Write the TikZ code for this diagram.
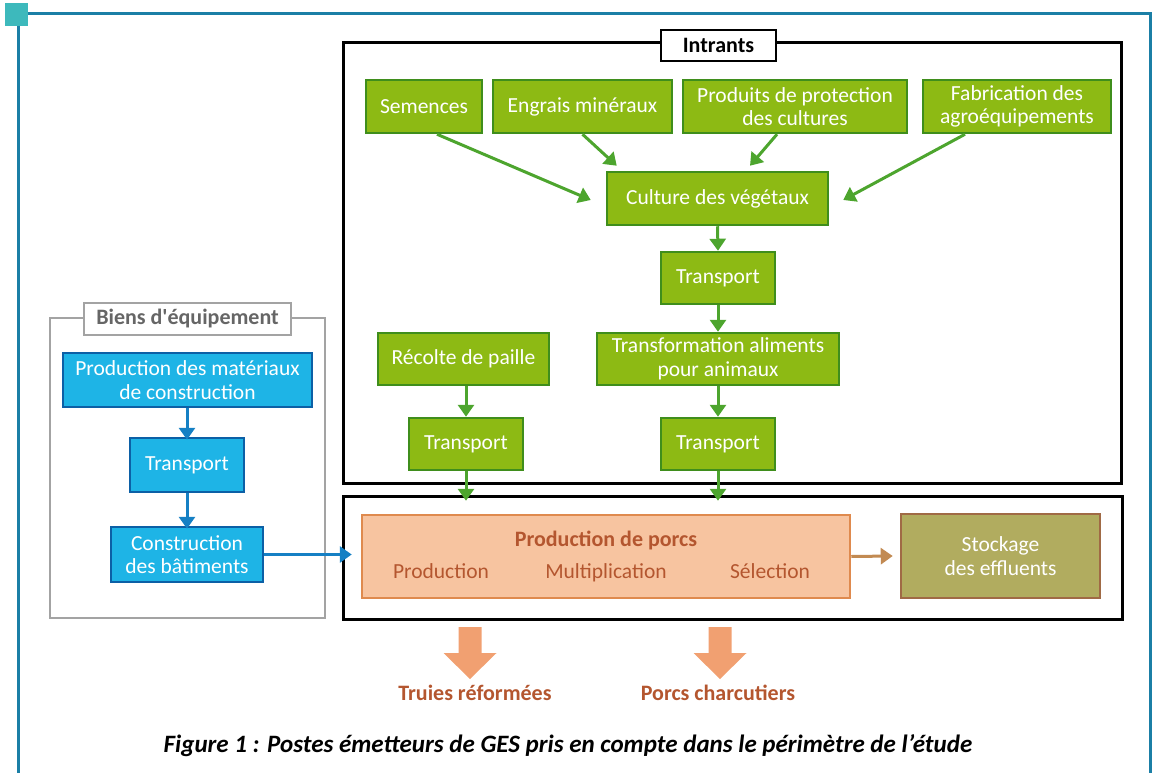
\documentclass[tikz,border=0pt]{standalone}
\usepackage{fontspec}
\setmainfont{Carlito}
\newfontfamily\carl{Carlito}
\usetikzlibrary{arrows.meta,calc}
\definecolor{gfill}{HTML}{8DBA14}
\definecolor{gline}{HTML}{3F8E1C}
\definecolor{garr}{HTML}{4DA52E}
\definecolor{bfill}{HTML}{1EB4E6}
\definecolor{bline}{HTML}{0C60A6}
\definecolor{barr}{HTML}{1580C4}
\definecolor{pfill}{HTML}{F7C4A0}
\definecolor{pline}{HTML}{DF8A4E}
\definecolor{ptext}{HTML}{B4562F}
\definecolor{sfill}{HTML}{B1AC5F}
\definecolor{sline}{HTML}{A06A45}
\definecolor{brarr}{HTML}{C28A52}
\definecolor{bigarr}{HTML}{F1A071}
\definecolor{frame}{HTML}{1B7FA6}
\definecolor{teal}{HTML}{3DB9BC}
\definecolor{grayline}{HTML}{A3A3A3}
\definecolor{graytext}{HTML}{666666}
\tikzset{
  boxfont/.style={font=\fontsize{21.5}{23.5}\selectfont},
  gbox/.style={draw=gline, line width=2.5pt, fill=gfill, text=white, align=center, inner sep=0pt, boxfont},
  bbox/.style={draw=bline, line width=2.5pt, fill=bfill, text=white, align=center, inner sep=0pt, boxfont},
  garrow/.style={draw=garr, line width=3pt, -{Triangle[width=16pt,length=12pt]}},
  barrow/.style={draw=barr, line width=3pt, -{Triangle[width=16pt,length=12pt]}},
  brarrow/.style={draw=brarr, line width=3pt, -{Triangle[width=16pt,length=12pt]}},
  blackframe/.style={draw=black, line width=3pt},
  ptxt/.style={text=ptext, boxfont, anchor=base, inner sep=0pt},
}
\begin{document}
\begin{tikzpicture}[x=1pt,y=-1pt]
\useasboundingbox (0,0) rectangle (1157,773);
% outer frame
\draw[frame, line width=3pt] (28,13.5) -- (1150,13.5) -- (1150,773);
\draw[frame, line width=3pt] (18,26) -- (18,773);
\fill[teal] (5,3) rectangle (28,26);
% Intrants frame
\draw[blackframe] (343,43) rectangle (1121,483);
\node[draw=black, line width=2.5pt, fill=white, minimum width=115pt, minimum height=31pt, inner sep=0pt, font=\fontsize{22}{24}\selectfont\bfseries] (intr) at (718.5,45.5) {Intrants};
% green boxes
\node[gbox, minimum width=116pt, minimum height=53pt] (sem) at (424,106.5) {Semences};
\node[gbox, minimum width=179pt, minimum height=53pt] (eng) at (582.5,106.5) {Engrais minéraux};
\node[gbox, minimum width=224pt, minimum height=53pt] (prot) at (795,106.5) {Produits de protection\\des cultures};
\node[gbox, minimum width=188pt, minimum height=53pt] (fab) at (1017,106.5) {Fabrication des\\agroéquipements};
\node[gbox, minimum width=221pt, minimum height=53pt] (cult) at (717.5,198.5) {Culture des végétaux};
\node[gbox, minimum width=114pt, minimum height=52pt] (tr1) at (718,278) {Transport};
\node[gbox, minimum width=242pt, minimum height=52pt] (tal) at (718,359) {Transformation aliments\\pour animaux};
\node[gbox, minimum width=171pt, minimum height=52pt] (rec) at (463.5,359) {Récolte de paille};
\node[gbox, minimum width=114pt, minimum height=52pt] (trL) at (466,444) {Transport};
\node[gbox, minimum width=114pt, minimum height=52pt] (trR) at (718,444) {Transport};
% green arrows
\draw[garrow] ([xshift=13pt]sem.south) -- ([shift={(-15,1.5)}]cult.west);
\draw[garrow] (eng.south) -- ([shift={(11,-5)}]cult.north west);
\draw[garrow] ([xshift=-18pt]prot.south) -- ([shift={(32.5,-5)}]cult.north);
\draw[garrow] ([xshift=-52pt]fab.south) -- ([shift={(14,1.5)}]cult.east);
\draw[garrow] (cult.south) -- (tr1.north);
\draw[garrow] (tr1.south) -- (tal.north);
\draw[garrow] (rec.south -| trL.north) -- (trL.north);
\draw[garrow] (tal.south) -- (trR.north);
% production frame
\draw[blackframe] (343,496) rectangle (1122,619);
\node[draw=pline, line width=2.5pt, fill=pfill, minimum width=488pt, minimum height=83pt, inner sep=0pt] (porcs) at (606,556.5) {};
\node[ptxt, font=\fontsize{22}{24}\selectfont\bfseries] (pdp) at (606,546) {Production de porcs};
\node[ptxt] (p1) at (441,578) {Production};
\node[ptxt] (p2) at (606,578) {Multiplication};
\node[ptxt] (p3) at (770,578) {Sélection};
\node[draw=sline, line width=2.5pt, fill=sfill, text=white, align=center, minimum width=199pt, minimum height=84pt, inner sep=0pt, font=\fontsize{21.5}{24}\selectfont] (stock) at (1000.5,556) {Stockage\\des effluents};
\coordinate (inL) at ($(trL.south |- porcs.north)+(0,-13)$);
\coordinate (inR) at ($(trR.south |- porcs.north)+(0,-13)$);
\draw[garrow] (trL.south) -- (inL);
\draw[garrow] (trR.south) -- (inR);
\draw[brarrow] (porcs.east) -- ([xshift=-7pt]stock.west);
% Biens d'equipement
\draw[grayline, line width=2.5pt] (50,318) rectangle (325,618);
\node[draw=grayline, line width=2.5pt, fill=white, minimum width=207pt, minimum height=32pt, inner sep=0pt, text=graytext, font=\carl\fontsize{22}{24}\selectfont\bfseries] (biens) at (187.5,319) {Biens d'équipement};
\node[bbox, minimum width=249pt, minimum height=54pt] (mat) at (187.5,380) {Production des matériaux\\de construction};
\node[bbox, minimum width=114pt, minimum height=54pt] (trB) at (187,465) {Transport};
\node[bbox, minimum width=152pt, minimum height=55pt] (cons) at (187,554.5) {Construction\\des bâtiments};
\draw[barrow] (mat.south -| trB.north) -- ([yshift=-3pt]trB.north);
\draw[barrow] (trB.south) -- ([yshift=-3pt]cons.north);
\coordinate (inB) at ($(porcs.west |- cons.east)+(-9,0)$);
\draw[barrow] (cons.east) -- (inB);
% outputs
\coordinate (oL) at (470,627);
\coordinate (oR) at (720,627);
\foreach \c in {oL,oR}{
  \fill[bigarr] ($(\c)+(-11.5,0)$) -- ($(\c)+(11.5,0)$) -- ($(\c)+(11.5,26)$) -- ($(\c)+(26.5,26)$) -- ($(\c)+(0,52)$) -- ($(\c)+(-26.5,26)$) -- ($(\c)+(-11.5,26)$) -- cycle;
}
\node[text=ptext, font=\fontsize{22}{24}\selectfont\bfseries] (truies) at (475,693) {Truies réformées};
\node[text=ptext, font=\fontsize{22}{24}\selectfont\bfseries] (charc) at (718,693) {Porcs charcutiers};
% caption
\node[font=\fontsize{25}{27}\selectfont\bfseries\itshape] (cap) at (568,746) {Figure 1 : Postes émetteurs de GES pris en compte dans le périmètre de l’étude};
\end{tikzpicture}
\end{document}
